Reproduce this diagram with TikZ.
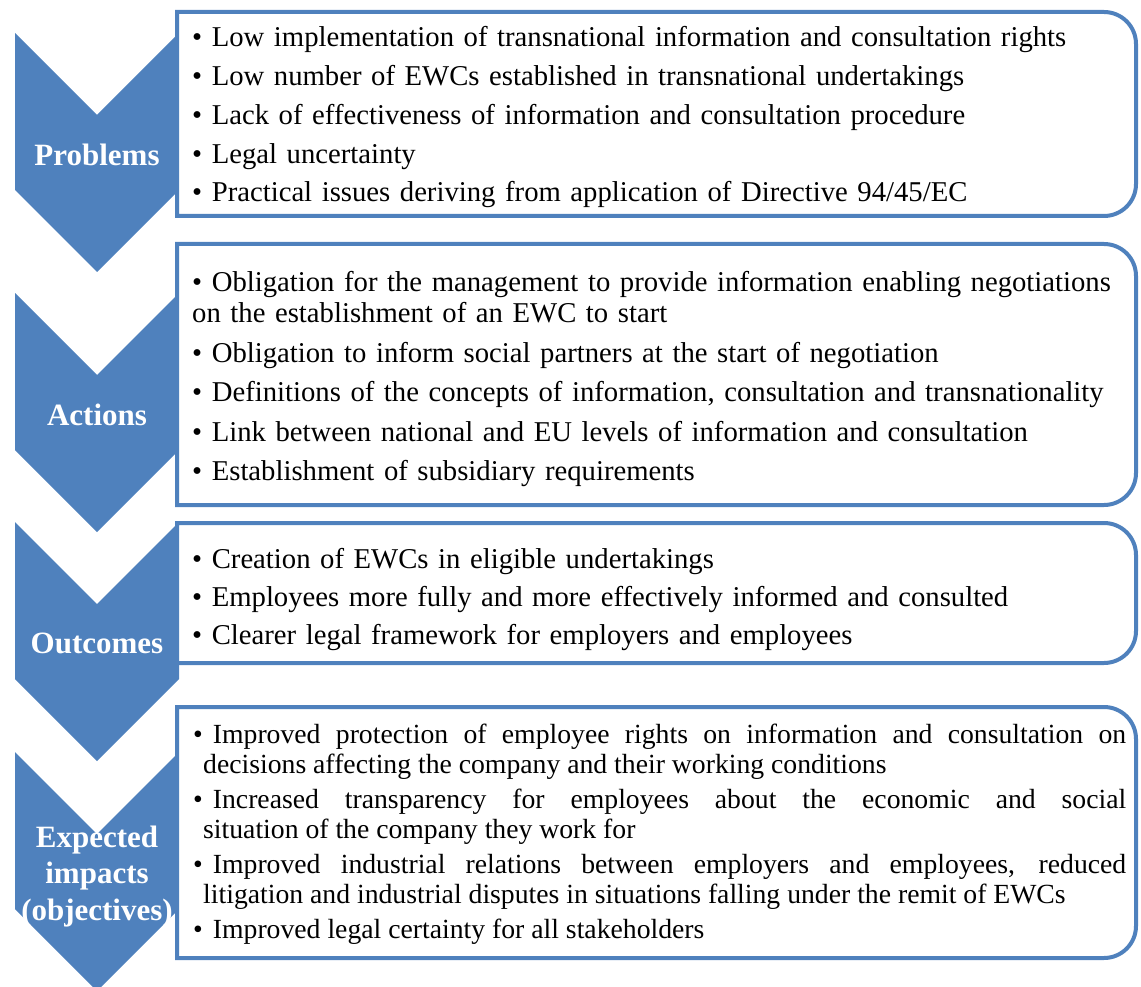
\documentclass[tikz,border=0pt]{standalone}
\usepackage{fontspec}
\setmainfont{Liberation Serif}
\usetikzlibrary{positioning}
\definecolor{officeBlue}{HTML}{4F81BD}
\colorlet{penColor}{officeBlue}
\colorlet{fill1}{officeBlue}
\newcommand{\itm}{\textbullet\ }
\newcommand{\hitm}{\hangindent=10pt\hangafter=1\textbullet\hskip 10pt\relax}
\tikzset{
  chevron/.style={fill=fill1,draw=none},
  listbox/.style={draw=penColor,line width=4pt,fill=white,line join=miter},
  chevlabel/.style={anchor=base,inner sep=0pt,text=white,text width=220pt,align=center,
    font=\fontsize{31}{36.5}\selectfont\bfseries},
  itemtext/.style={anchor=base west,inner sep=0pt,text width=940pt,align=left,
    font=\fontsize{28.7}{32}\selectfont},
}
\begin{document}
\begin{tikzpicture}[x=1pt,y=-1pt]
      \useasboundingbox (0,0) rectangle (1141,987);

      \foreach \t in {33,293,522,752}
        \fill [chevron] (15,\t) -- ++(82,82) -- ++(82,-82) -- ++(0,157) -- ++(-82,82) -- ++(-82,-82) -- cycle;

      \foreach \t/\b in {12/216,244/505,523/663,707/958}
        \draw [listbox] (177,\t) -- (1104,\t) arc [start angle=90,end angle=0,radius=32pt]
          -- (1136,\b-32) arc [start angle=0,end angle=-90,radius=32pt] -- (177,\b) -- cycle;

      \node [itemtext] (problems) at (192,47) {\setlength{\parskip}{6.7pt}%
        \itm Low implementation of transnational information and consultation rights\par
        \itm Low number of EWCs established in transnational undertakings\par
        \itm Lack of effectiveness of information and consultation procedure\par
        \itm Legal uncertainty\par
        \itm Practical issues deriving from application of Directive 94/45/EC};
      \node [itemtext] (actions) at (192,291) {\setlength{\parskip}{7.5pt}%
        \itm Obligation for the management to provide information enabling negotiations\newline
        on the establishment of an EWC to start\par
        \itm Obligation to inform social partners at the start of negotiation\par
        \itm Definitions of the concepts of information, consultation and transnationality\par
        \itm Link between national and EU levels of information and consultation\par
        \itm Establishment of subsidiary requirements};
      \node [itemtext] (outcomes) at (192,568) {\setlength{\parskip}{6pt}%
        \itm Creation of EWCs in eligible undertakings\par
        \itm Employees more fully and more effectively informed and consulted\par
        \itm Clearer legal framework for employers and employees};
      \node [itemtext,text width=933pt,align=justify,font=\fontsize{27.7}{30}\selectfont]
        (impacts) at (193,743) {\setlength{\parskip}{5pt}%
        \hitm Improved protection of employee rights on information and consultation on\linebreak
        decisions affecting the company and their working conditions\par
        \hitm Increased transparency for employees about the economic and social\linebreak
        situation of the company they work for\par
        \hitm Improved industrial relations between employers and employees, reduced\linebreak
        litigation and industrial disputes in situations falling under the remit of EWCs\par
        \hitm Improved legal certainty for all stakeholders};

      \node [chevlabel] (lproblems) at (97,166) {Problems};
      \node [chevlabel] (lactions) at (97,425) {Actions};
      \node [chevlabel] (loutcomes) at (97,653) {Outcomes};
      \node [chevlabel] (limpacts) at (97,847) {Expected\\ impacts\\ (objectives)};
    \end{tikzpicture}
\end{document}
